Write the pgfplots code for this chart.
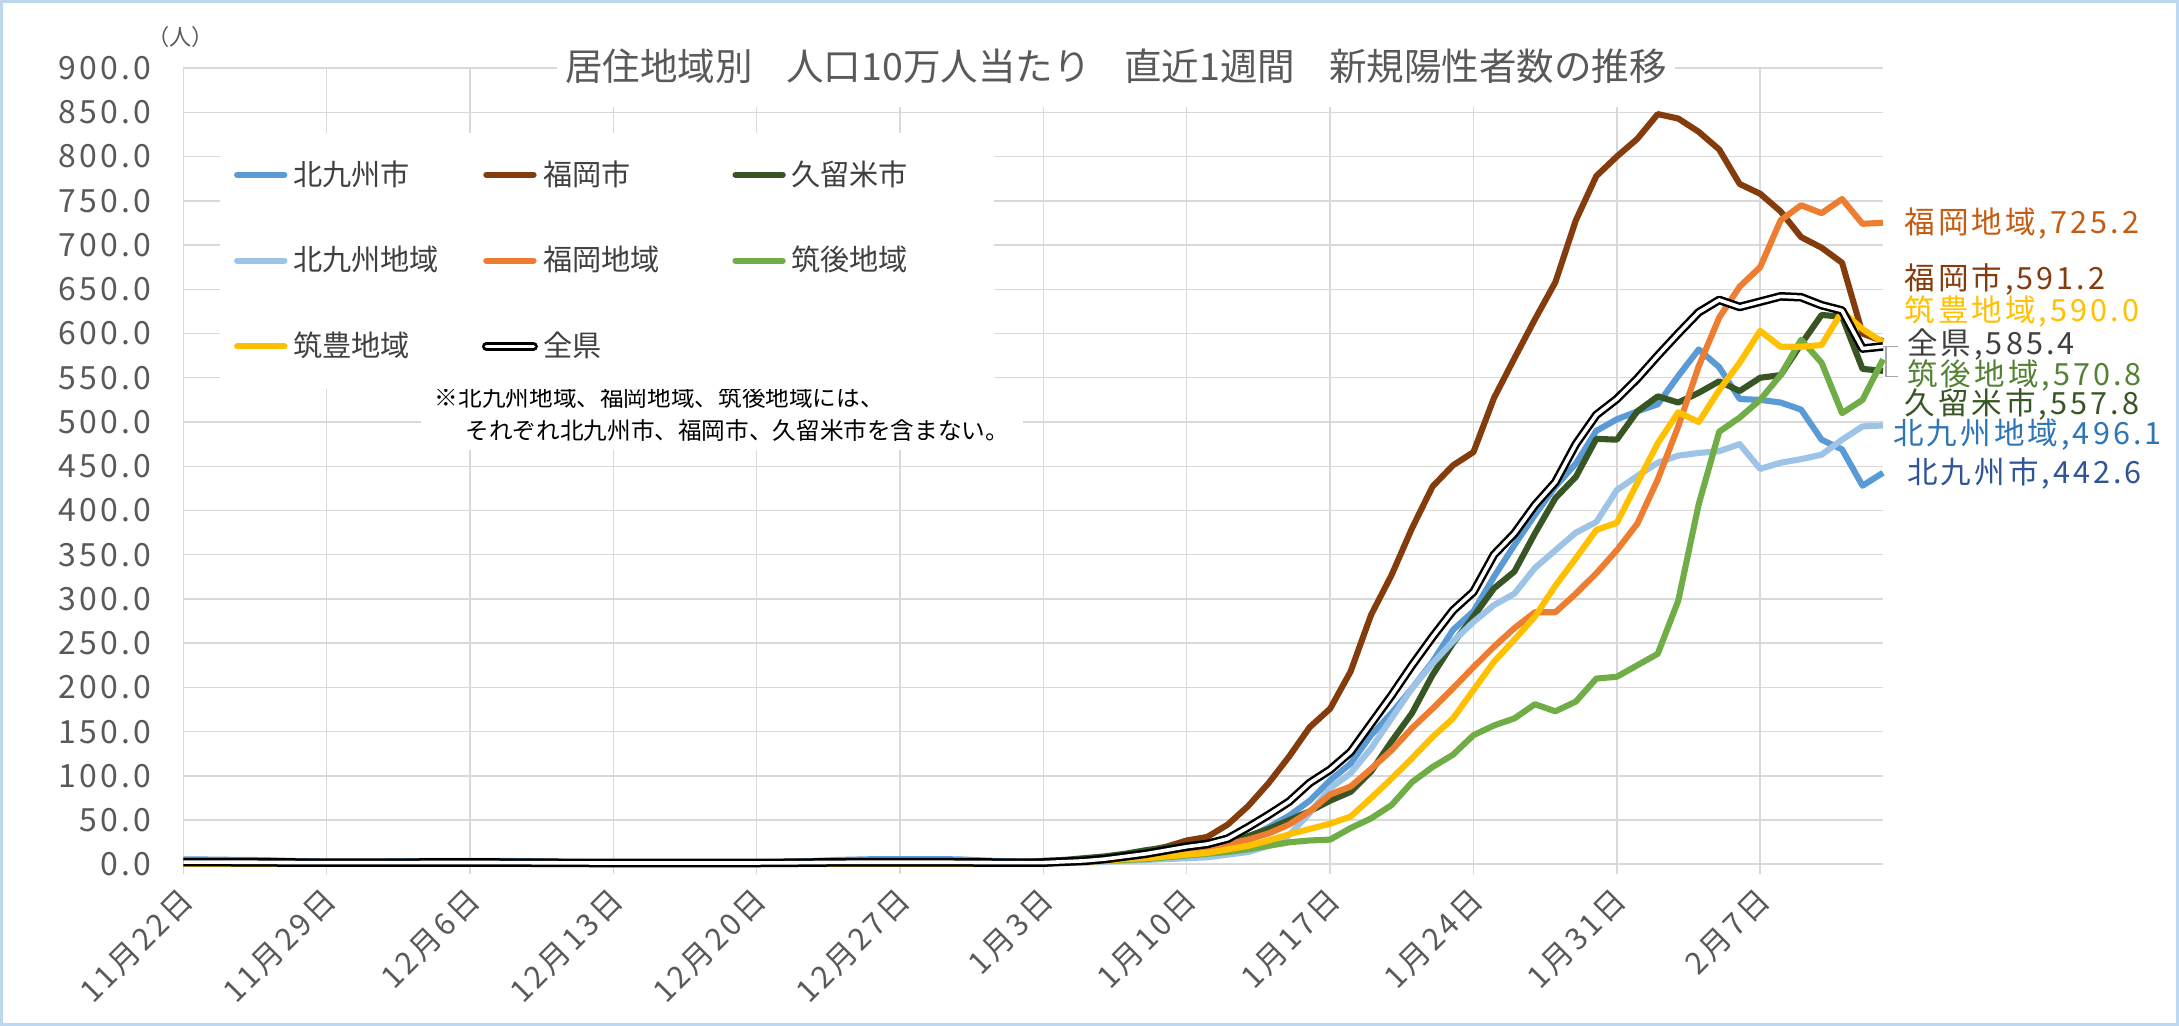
\documentclass[border=0pt]{standalone}
\usepackage{pgfplots}
\pgfplotsset{compat=1.18}
\usepackage{pgfplotstable}
\usepackage{fontspec}
\setmainfont{Noto Sans CJK JP}
\newfontfamily\lblfont[LetterSpace=10]{Noto Sans CJK JP}
\definecolor{ckk}{HTML}{5B9BD5}
\definecolor{cfk}{HTML}{843C0C}
\definecolor{ckr}{HTML}{375623}
\definecolor{ckkr}{HTML}{9DC3E6}
\definecolor{cfkr}{HTML}{ED7D31}
\definecolor{ccg}{HTML}{70AD47}
\definecolor{cch}{HTML}{FFC000}
\definecolor{gridc}{HTML}{D9D9D9}
\definecolor{tickc}{HTML}{595959}
\definecolor{bordc}{HTML}{BDD7EE}
\pgfplotstableread{
d kk fk kr kkr fkr cg ch all
0 5.5 3 1.5 2.5 2 1 1 2.5
1 5.5 3 1.5 2.5 2 1 1 2.5
2 5.2 3 1.5 2.5 2 1 1 2.5
3 5.0 3 1.5 2.5 2 1 1 2.4
4 4.8 2.8 1.5 2.3 2 1 1 2.3
5 4.0 2.6 1.4 2 1.8 1 0.8 2.1
6 3.5 2.5 1.3 2 1.8 1 0.8 2
7 3.0 2.5 1.2 2 1.7 0.9 0.8 2
8 3.0 2.5 1.2 2 1.7 0.9 0.8 2
9 3.0 2.5 1.2 2 1.7 0.9 0.8 2
10 3.2 2.5 1.2 2 1.7 0.9 0.8 2
11 3.5 2.5 1.2 2 1.7 0.9 0.8 2
12 4.0 2.5 1.2 2.2 1.7 0.9 0.8 2.1
13 4.0 2.5 1.2 2.2 1.7 0.9 0.8 2.1
14 4.0 2.5 1.2 2.2 1.7 0.9 0.8 2.1
15 4.0 2.5 1.2 2.2 1.7 0.9 0.8 2.1
16 3.8 2.4 1.1 2 1.6 0.8 0.7 2
17 3.5 2.3 1.1 2 1.6 0.8 0.7 1.9
18 3.0 2.2 1 1.8 1.5 0.8 0.7 1.8
19 2.8 2.1 1 1.8 1.5 0.8 0.7 1.7
20 2.5 2 1 1.7 1.4 0.8 0.6 1.6
21 2.5 2 1 1.7 1.4 0.8 0.6 1.6
22 2.5 2 1 1.7 1.4 0.8 0.6 1.6
23 2.5 2 1 1.7 1.4 0.8 0.6 1.6
24 2.5 2 1 1.7 1.4 0.8 0.6 1.6
25 2.5 2 1 1.7 1.4 0.8 0.6 1.6
26 2.5 2 1 1.7 1.4 0.8 0.6 1.6
27 2.5 2 1 1.7 1.4 0.8 0.6 1.6
28 2.5 2 1 1.7 1.4 0.8 0.6 1.6
29 2.8 2.1 1 1.8 1.5 0.8 0.7 1.7
30 3.2 2.3 1.1 2 1.6 0.9 0.8 1.9
31 4.0 2.5 1.2 2.2 1.8 0.9 0.9 2.1
32 5.0 2.7 1.3 2.4 1.9 1 1 2.3
33 5.5 2.8 1.3 2.5 2 1 1 2.4
34 6.0 2.8 1.3 2.5 2 1 1 2.4
35 6.0 2.8 1.3 2.5 2 1 1 2.4
36 6.0 2.8 1.3 2.5 2 1 1 2.4
37 6.0 2.8 1.3 2.5 2 1 1 2.4
38 5.5 2.7 1.3 2.3 1.9 1 1 2.3
39 4.5 2.5 1.2 2 1.8 0.9 0.9 2.1
40 3.5 2.4 1.2 1.8 1.7 0.9 0.9 2
41 3.0 2.5 1.5 1.5 1.7 1 0.9 2
42 3 3 4 1 2 2 1 2
43 4 4 5 2 3 2 2 3
44 5 6 7 2 4 3 3 4
45 7 8 9 3 6 4 4 6
46 9 11 12 4 8 5 6 9
47 12 15 16 5 10 6 7 12
48 15 20 19 6 13 8 9 16
49 18 27 22 7 16 10 11 20
50 21 31 25 8 19 12 13 23
51 25 45 28 11 23 14 17 29
52 30 66 32 14 28 17 21 42
53 42 92 40 21 35 21 27 56
54 55 122 50 33 45 25 34 71
55 72 155 60 58 60 27 40 92
56 95 176 72 86 79 28 46 107
57 114 218 82 103 88 41 54 127
58 146 282 105 131 108 52 75 159
59 171 327 139 165 129 67 97 191
60 199 380 171 199 154 93 120 225
61 229 427 214 227 176 110 144 257
62 265 451 250 252 199 124 165 287
63 286 466 280 274 223 146 197 308
64 325 527 312 293 246 157 229 350
65 361 572 331 306 267 165 254 374
66 395 616 374 335 285 181 280 406
67 427 658 414 355 285 173 315 432
68 453 728 438 375 306 184 346 475
69 490 778 481 387 329 210 378 508
70 503 800 480 423 355 212 386 526
71 512 820 512 439 385 225 431 549
72 520 848 529 454 435 238 476 575
73 552 843 522 462 495 298 511 600
74 582 828 533 465 563 407 500 624
75 562 808 546 467 618 489 536 638
76 526 769 535 475 653 505 567 630
77 525 758 550 447 675 525 603 636
78 522 738 553 454 728 553 585 642
79 514 709 588 458 745 593 585 641
80 480 697 621 463 736 567 587 632
81 469 680 619 480 752 510 625 626
82 428 600 560 495 724 525 605 583
83 442.6 591.2 557.8 496.1 725.2 570.8 590.0 585.4
}\data
\begin{document}
\begin{tikzpicture}
\useasboundingbox (0,0) rectangle (784pt,369pt);
\draw[color=bordc, line width=1pt] (0.5pt,0.5pt) rectangle (783.5pt,368.5pt);
\begin{axis}[
  at={(66pt,58pt)}, anchor=south west,
  scale only axis, width=611.5pt, height=286.5pt,
  xmin=0, xmax=83, ymin=0, ymax=900,
  xtick={0,7,...,77},
  xticklabels={11月22日,11月29日,12月6日,12月13日,12月20日,12月27日,1月3日,1月10日,1月17日,1月24日,1月31日,2月7日},
  ytick={0,50,...,900},
  yticklabel={\pgfmathprintnumber[fixed,fixed zerofill,precision=1]{\tick}},
  /pgf/number format/assume math mode=true,
  grid=major, grid style={draw=gridc, line width=0.5pt},
  separate axis lines,
  axis x line*=bottom, axis y line*=left,
  x axis line style={draw=gridc, line width=0.8pt, -},
  y axis line style={draw=none},
  xtick align=outside, major tick length=3.5pt,
  xtick style={draw=gridc, line width=0.5pt},
  ytick style={draw=none},
  tick label style={font=\lblfont\fontsize{11.5}{12}\selectfont, text=tickc},
  xticklabel style={xshift=4pt, yshift=-5pt, rotate=45, anchor=east, font=\lblfont\fontsize{11}{12}\selectfont},
  yticklabel style={xshift=-8pt},
  clip=false,
  legend columns=3,
  legend cell align=left,
  legend style={at={(0.0213,0.9197)}, anchor=north west, draw=none, fill=white,
    font=\fontsize{10.5}{12}\selectfont, text=black!75,
    inner xsep=5pt, inner ysep=8pt, row sep=16.5pt},
  legend image code/.code={\draw[#1, line cap=round] (0pt,0pt) -- (17pt,0pt);},
]
\addplot[ckk, line width=2.2pt, line join=round] table[x=d,y=kk]{\data};
\addplot[cfk, line width=2.2pt, line join=round] table[x=d,y=fk]{\data};
\addplot[ckr, line width=2.2pt, line join=round] table[x=d,y=kr]{\data};
\addplot[ckkr, line width=2.2pt, line join=round] table[x=d,y=kkr]{\data};
\addplot[cfkr, line width=2.2pt, line join=round] table[x=d,y=fkr]{\data};
\addplot[ccg, line width=2.2pt, line join=round] table[x=d,y=cg]{\data};
\addplot[cch, line width=2.2pt, line join=round] table[x=d,y=ch]{\data};
\addplot[draw=black, line width=0.9pt, double=white, double distance=1.3pt, line join=round] table[x=d,y=all]{\data};
\legend{\makebox[66pt][l]{北九州市},\makebox[66pt][l]{福岡市},\makebox[66pt][l]{久留米市},\makebox[66pt][l]{北九州地域},\makebox[66pt][l]{福岡地域},\makebox[66pt][l]{筑後地域},\makebox[66pt][l]{筑豊地域},\makebox[66pt][l]{全県}}
\node[fill=white, anchor=west, inner xsep=5pt, inner ysep=3pt, align=left, font=\fontsize{8.5}{12}\selectfont, text=black] at (rel axis cs:0.1395,0.5654) {※北九州地域、福岡地域、筑後地域には、\\\hspace*{1.3em}それぞれ北九州市、福岡市、久留米市を含まない。};
\end{axis}
\node[fill=white, minimum width=402pt, minimum height=29pt, inner sep=0pt, text=tickc, font=\fontsize{13.5}{14}\selectfont] at (401.5pt,345pt) {居住地域別\hspace{0.9em}人口10万人当たり\hspace{0.9em}直近1週間\hspace{0.9em}新規陽性者数の推移};
\node[text=tickc, font=\fontsize{8}{9}\selectfont] at (65pt,355.5pt) {（人）};
\begin{scope}[every node/.style={anchor=west, inner sep=0pt, font=\lblfont\fontsize{11}{12}\selectfont}]
\node[text={rgb,255:red,197;green,90;blue,17}] at (685pt,288.5pt) {福岡地域,725.2};
\node[text=cfk] at (685pt,268.5pt) {福岡市,591.2};
\node[text=cch] at (685pt,257pt) {筑豊地域,590.0};
\node[text={rgb,255:red,64;green,64;blue,64}] at (686pt,245pt) {全県,585.4};
\node[text={rgb,255:red,84;green,130;blue,53}] at (686pt,234pt) {筑後地域,570.8};
\node[text=ckr] at (685pt,223.5pt) {久留米市,557.8};
\node[text={rgb,255:red,46;green,117;blue,182}] at (681pt,212.5pt) {北九州地域,496.1};
\node[text={rgb,255:red,47;green,85;blue,151}] at (686pt,198.5pt) {北九州市,442.6};
\end{scope}
\draw[color=gray!70, line width=0.5pt] (677.5pt,244.25pt) -- (683pt,244.25pt) (678.5pt,244.25pt) -- (678.5pt,233.5pt) -- (683pt,233.5pt);
\end{tikzpicture}
\end{document}
